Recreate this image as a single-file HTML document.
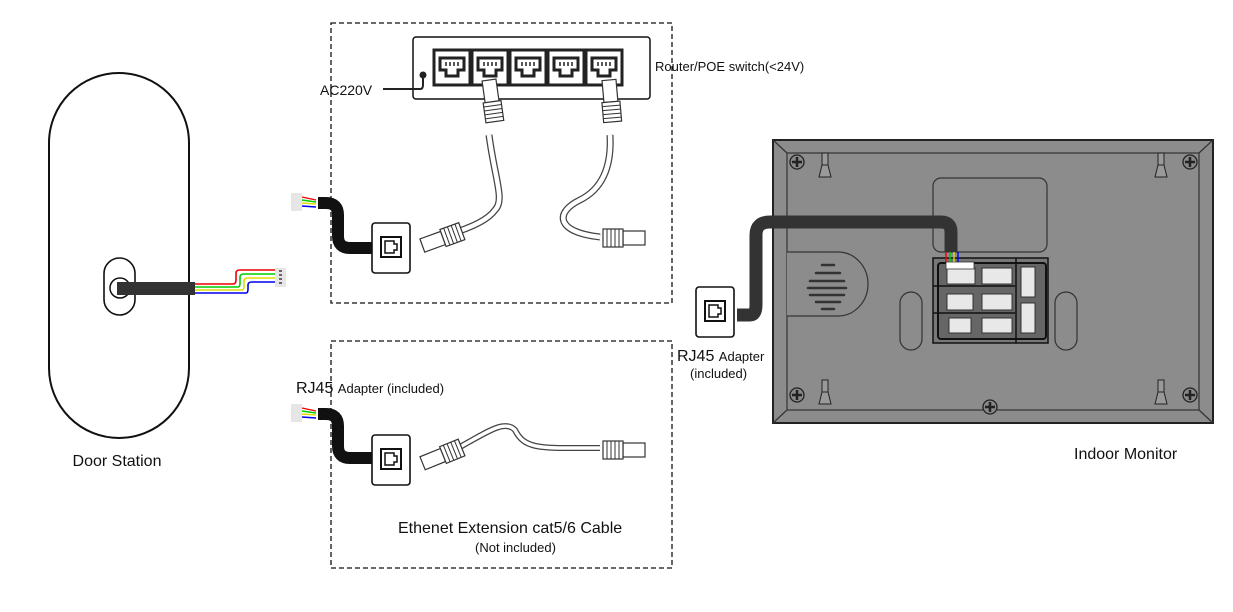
<!DOCTYPE html>
<html><head><meta charset="utf-8"><style>
html,body{margin:0;padding:0;background:#fff;}
svg{display:block;font-family:"Liberation Sans",Arial,sans-serif;}
</style></head><body>
<svg width="1233" height="612" viewBox="0 0 1233 612" xmlns="http://www.w3.org/2000/svg">
<defs>
<g id="port">
 <rect x="0" y="0" width="36" height="35" fill="#fff" stroke="#222" stroke-width="3"/>
 <path d="M6 8 H30 V20 H24 V26 H12 V20 H6 Z" fill="#fff" stroke="#222" stroke-width="3"/>
 <path d="M12 12 v4 M16 12 v4 M20 12 v4 M24 12 v4" stroke="#222" stroke-width="1.5"/>
</g>
<g id="plugV">
 <rect x="-7" y="0" width="14" height="22" fill="#fff" stroke="#333" stroke-width="1.2"/>
 <rect x="-9" y="22" width="18" height="20" fill="#fff" stroke="#333" stroke-width="1.2"/>
 <path d="M-9 26 h18 M-9 30 h18 M-9 34 h18 M-9 38 h18" stroke="#333" stroke-width="1"/>
</g>
<g id="plugH">
 <rect x="0" y="-7" width="22" height="14" fill="#fff" stroke="#333" stroke-width="1.2"/>
 <rect x="-20" y="-9" width="20" height="18" fill="#fff" stroke="#333" stroke-width="1.2"/>
 <path d="M-4 -9 v18 M-8 -9 v18 M-12 -9 v18 M-16 -9 v18" stroke="#333" stroke-width="1"/>
</g>
<g id="adapter">
 <rect x="0" y="0" width="38" height="50" rx="3" fill="#fff" stroke="#111" stroke-width="1.6"/>
 <rect x="9" y="14" width="20" height="20" fill="#fff" stroke="#111" stroke-width="2"/>
 <path d="M13 18 h9 v3 h3 v6 h-3 v3 h-9 Z" fill="none" stroke="#111" stroke-width="1.5"/>
</g>
<g id="screw">
 <circle r="7" fill="#888" stroke="#222" stroke-width="1.3"/>
 <path d="M-5 0 H5 M0 -5 V5" stroke="#222" stroke-width="2.5"/>
</g>
<g id="hook">
 <rect x="-3" y="0" width="6" height="12" fill="#999" stroke="#222" stroke-width="1"/>
 <path d="M-3 12 L-6 24 H6 L3 12 Z" fill="#999" stroke="#222" stroke-width="1"/>
</g>
</defs>

<!-- Door station -->
<path d="M49 143 A70 70 0 0 1 189 143 V368 A70 70 0 0 1 49 368 Z" fill="#fff" stroke="#111" stroke-width="2"/>
<rect x="104" y="258" width="31" height="57" rx="15.5" fill="#fff" stroke="#111" stroke-width="1.6"/>
<circle cx="120" cy="288" r="10" fill="#fff" stroke="#111" stroke-width="1.5"/>
<rect x="117" y="282" width="78" height="13" fill="#333"/>
<g fill="none" stroke-width="1.6">
<path d="M195 284 H233 Q236 284 236 280 V273 Q236 270 240 270 H275" stroke="#e00"/>
<path d="M195 287 H238 Q240 287 240 283 V277 Q240 274 244 274 H275" stroke="#0c0"/>
<path d="M195 290 H242 Q244 290 244 286 V281 Q244 278 248 278 H275" stroke="#dd0"/>
<path d="M195 293 H246 Q248 293 248 289 V285 Q248 282 252 282 H275" stroke="#00e"/>
</g>
<rect x="275" y="268" width="11" height="19" fill="#e6e6e6"/>
<path d="M279 271 h3 M279 275 h3 M279 279 h3 M279 283 h3" stroke="#666" stroke-width="2"/>
<text x="117" y="466" font-size="16" text-anchor="middle" fill="#111">Door Station</text>

<!-- Top dashed box -->
<rect x="331" y="23" width="341" height="280" fill="none" stroke="#111" stroke-width="1.3" stroke-dasharray="5,3"/>
<rect x="413" y="37" width="237" height="62" rx="3" fill="#fff" stroke="#111" stroke-width="1.5"/>
<use href="#port" x="434" y="50"/>
<use href="#port" x="472" y="50"/>
<use href="#port" x="510" y="50"/>
<use href="#port" x="548" y="50"/>
<use href="#port" x="586" y="50"/>
<circle cx="423" cy="75" r="3.5" fill="#222"/>
<path d="M383 89 H420 Q423 89 423 85 V75" fill="none" stroke="#222" stroke-width="2"/>
<text x="320" y="95" font-size="14" fill="#111">AC220V</text>
<text x="655" y="71" font-size="13" fill="#111">Router/POE switch(&lt;24V)</text>
<!-- cables -->
<path d="M489 135 C495 180 505 200 495 210 C488 220 470 228 450 234" fill="none" stroke="#444" stroke-width="7"/>
<path d="M489 135 C495 180 505 200 495 210 C488 220 470 228 450 234" fill="none" stroke="#fff" stroke-width="4.5"/>
<path d="M610 135 C612 170 600 190 580 200 C555 212 555 232 600 237" fill="none" stroke="#444" stroke-width="7"/>
<path d="M610 135 C612 170 600 190 580 200 C555 212 555 232 600 237" fill="none" stroke="#fff" stroke-width="4.5"/>
<use href="#plugV" x="489" y="80" transform="rotate(-8 489 80)"/>
<use href="#plugV" x="609" y="80" transform="rotate(-5 609 80)"/>
<g transform="translate(443 238) rotate(-20)"><use href="#plugH" transform="scale(-1 1)"/></g>
<use href="#plugH" x="623" y="238"/>
<!-- adapter top -->
<path d="M318 203 H326 Q338 203 338 215 V236 Q338 248 350 248 H375" fill="none" stroke="#111" stroke-width="12"/>
<g fill="none" stroke-width="1.4"><path d="M302 197 L316 200" stroke="#e00"/><path d="M302 200 L316 202" stroke="#0c0"/><path d="M302 203 L316 204" stroke="#dd0"/><path d="M302 206 L316 207" stroke="#00e"/></g>
<rect x="291" y="193" width="11" height="18" fill="#e6e6e6"/>
<use href="#adapter" x="372" y="223"/>

<!-- Bottom dashed box -->
<rect x="331" y="341" width="341" height="227" fill="none" stroke="#111" stroke-width="1.3" stroke-dasharray="5,3"/>
<text x="296" y="393" font-size="16" fill="#111">RJ45 <tspan font-size="13">Adapter  (included)</tspan></text>
<path d="M318 414 H326 Q338 414 338 426 V446 Q338 458 350 458 H375" fill="none" stroke="#111" stroke-width="12"/>
<g fill="none" stroke-width="1.4"><path d="M302 408 L316 411" stroke="#e00"/><path d="M302 411 L316 413" stroke="#0c0"/><path d="M302 414 L316 415" stroke="#dd0"/><path d="M302 417 L316 418" stroke="#00e"/></g>
<rect x="291" y="404" width="11" height="18" fill="#e6e6e6"/>
<use href="#adapter" x="372" y="435"/>
<path d="M460 447 C490 430 505 420 515 430 C525 450 540 448 600 448" fill="none" stroke="#444" stroke-width="6"/>
<path d="M460 447 C490 430 505 420 515 430 C525 450 540 448 600 448" fill="none" stroke="#fff" stroke-width="3.5"/>
<g transform="translate(443 455) rotate(-22)"><use href="#plugH" transform="scale(-1 1)"/></g>
<use href="#plugH" x="623" y="450"/>
<text x="398" y="533" font-size="16" fill="#111">Ethenet Extension cat5/6 Cable</text>
<text x="475" y="552" font-size="13" fill="#111">(Not included)</text>

<!-- Indoor monitor -->
<rect x="773" y="140" width="440" height="283" fill="#8c8c8c" stroke="#222" stroke-width="2"/>
<rect x="787" y="153" width="412" height="257" fill="#8c8c8c" stroke="#333" stroke-width="1.2"/>
<path d="M773 140 L787 153 M1213 140 L1199 153 M773 423 L787 410 M1213 423 L1199 410" stroke="#333" stroke-width="1.2"/>
<use href="#screw" x="797" y="162"/><use href="#screw" x="1190" y="162"/>
<use href="#screw" x="797" y="395"/><use href="#screw" x="1190" y="395"/><use href="#screw" x="990" y="407"/>
<use href="#hook" x="825" y="153"/><use href="#hook" x="1161" y="153"/>
<use href="#hook" x="825" y="380"/><use href="#hook" x="1161" y="380"/>
<rect x="933" y="178" width="114" height="74" rx="8" fill="#8c8c8c" stroke="#333" stroke-width="1.2"/>
<path d="M787 252 H838 A30 32 0 0 1 838 316 H787" fill="#8c8c8c" stroke="#333" stroke-width="1.2"/>
<g stroke="#333" stroke-width="2.5" stroke-linecap="round">
<path d="M822 265 h12 M816 273 h24 M810 281 h34 M808 288 h38 M810 295 h34 M816 302 h24 M822 309 h12"/>
</g>
<rect x="900" y="292" width="22" height="58" rx="11" fill="#8c8c8c" stroke="#333" stroke-width="1.2"/>
<rect x="1055" y="292" width="22" height="58" rx="11" fill="#8c8c8c" stroke="#333" stroke-width="1.2"/>
<rect x="933" y="258" width="115" height="85" fill="#777" stroke="#111" stroke-width="1.5"/>
<rect x="938" y="263" width="108" height="76" rx="3" fill="#666" stroke="#111" stroke-width="2"/>
<path d="M933 286 H1015 M933 313 H1015 M1016 258 V343" stroke="#111" stroke-width="1.5"/>
<g fill="#e8e8e8" stroke="#333" stroke-width="1">
<rect x="947" y="268" width="28" height="16"/><rect x="982" y="268" width="30" height="16"/>
<rect x="947" y="294" width="26" height="16"/><rect x="982" y="294" width="30" height="16"/>
<rect x="949" y="318" width="22" height="15"/><rect x="982" y="318" width="30" height="15"/>
<rect x="1021" y="267" width="14" height="30"/><rect x="1021" y="303" width="14" height="30"/>
</g>
<rect x="946" y="262" width="28" height="7" fill="#fff" stroke="#333" stroke-width="0.8"/>
<!-- monitor cable -->
<path d="M737 315 H750 Q756 315 756 305 V235 Q756 222 770 222 H941 Q951 222 951 232 V252" fill="none" stroke="#333" stroke-width="13"/>
<g fill="none" stroke-width="1.4"><path d="M946 252 v10" stroke="#e00"/><path d="M950 252 v10" stroke="#0c0"/><path d="M954 252 v10" stroke="#dd0"/><path d="M958 252 v10" stroke="#00e"/></g>
<use href="#adapter" x="696" y="287"/>
<text x="677" y="361" font-size="16" fill="#111">RJ45 <tspan font-size="13">Adapter</tspan></text>
<text x="690" y="378" font-size="13" fill="#111">(included)</text>
<text x="1074" y="459" font-size="16" fill="#111">Indoor Monitor</text>
</svg>
</body></html>
